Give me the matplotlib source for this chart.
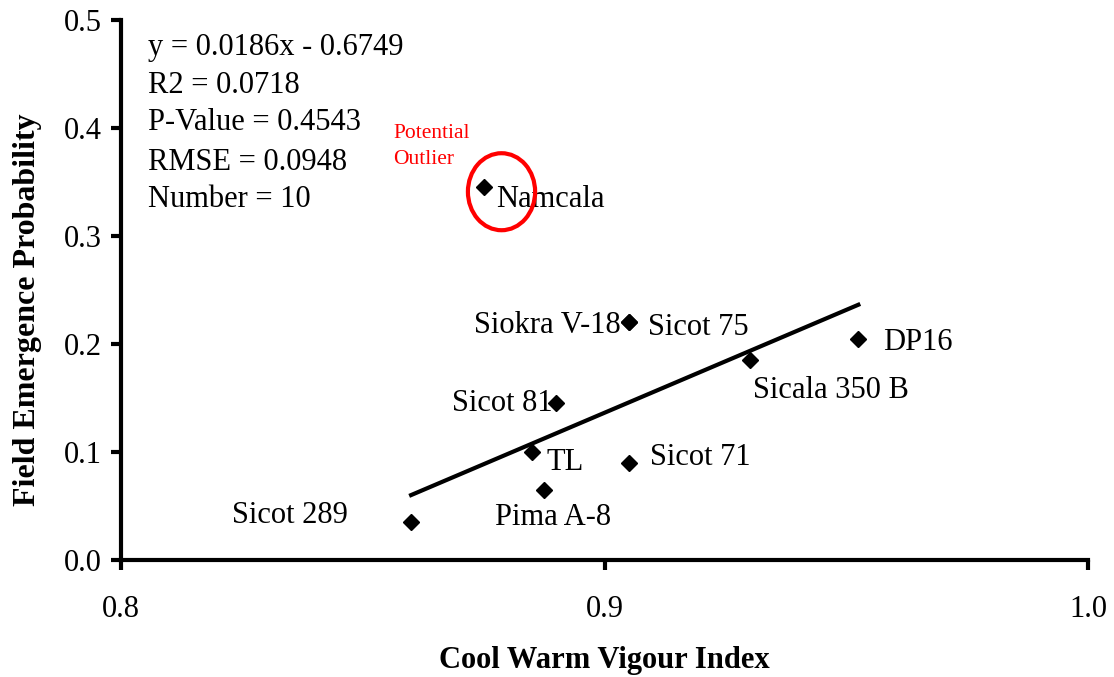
import numpy as np
import matplotlib
matplotlib.use("Agg")
import matplotlib.pyplot as plt
from matplotlib.patches import Ellipse

plt.rcParams['font.family'] = ['Liberation Serif', 'DejaVu Serif']

# Data
names = ["Namcala", "Siokra V-18", "Sicot 75", "Sicala 350 B", "DP16",
         "Sicot 81", "TL", "Sicot 71", "Pima A-8", "Sicot 289"]
vigour = [0.875, 0.905, 0.905, 0.930, 0.9525, 0.890, 0.885, 0.905, 0.8875, 0.860]
emergence = [0.345, 0.220, 0.220, 0.185, 0.205, 0.145, 0.100, 0.090, 0.065, 0.035]
outlier = "Namcala"

stats_lines = ["y = 0.0186x - 0.6749", "R2 = 0.0718", "P-Value = 0.4543",
               "RMSE = 0.0948", "Number = 10"]

# label offsets (pixels, baseline) and alignment
label_offsets = {
    "Namcala": (12.4, -19.6, 'left'),
    "Siokra V-18": (-8, -10.6, 'right'),
    "Sicot 75": (19.3, -12.6, 'left'),
    "Sicala 350 B": (3.4, -37.5, 'left'),
    "DP16": (24.6, -11, 'left'),
    "Sicot 81": (-4, -7.5, 'right'),
    "TL": (15, -18.5, 'left'),
    "Sicot 71": (21.3, -2, 'left'),
    "Pima A-8": (-49, -35.2, 'left'),
    "Sicot 289": (-179, -1, 'left'),
}

FS = 22
W, H = 1114, 677

fig = plt.figure(figsize=(11.14, 6.77), dpi=100)
ax = fig.add_axes([121/W, 117/H, (1088-121)/W, (560-20)/H])

ax.plot(vigour, emergence, linestyle='none', marker='D', markersize=8.2,
        color='black', zorder=3)

# Regression line fitted without the potential outlier
fx = np.array([v for v, n in zip(vigour, names) if n != outlier])
fy = np.array([e for e, n in zip(emergence, names) if n != outlier])
slope, intercept = np.polyfit(fx, fy, 1)
lx = np.array([fx.min(), fx.max()])
ax.plot(lx, slope * lx + intercept, color='black', linewidth=3, zorder=2)

for n, x, y in zip(names, vigour, emergence):
    dx, dy, ha = label_offsets[n]
    ax.annotate(n, (x, y), xytext=(dx, dy), textcoords='offset pixels',
                ha=ha, va='baseline', fontsize=FS)

# outlier marking
ox = vigour[names.index(outlier)]
oy = emergence[names.index(outlier)]
ax.add_patch(Ellipse((ox + 0.0037, oy - 0.004), 0.0139, 0.0713, fill=False,
                     edgecolor='#ff0000', linewidth=3, zorder=4))
for txt, base in zip(["Potential", "Outlier"], [138, 164]):
    fig.text(393/W, 1 - base/H, txt, color='#ff0000', fontsize=15.5,
             ha='left', va='baseline')

for line, base in zip(stats_lines, [55, 93, 130, 170, 207]):
    fig.text(148/W, 1 - base/H, line, fontsize=FS, ha='left', va='baseline')

ax.set_xlim(0.8, 1.0)
ax.set_ylim(0.0, 0.5)
ax.set_xticks([0.8, 0.9, 1.0])
ax.set_xticklabels(["0.8", "0.9", "1.0"])
ax.set_yticks([0.0, 0.1, 0.2, 0.3, 0.4, 0.5])
ax.set_yticklabels(["0.0", "0.1", "0.2", "0.3", "0.4", "0.5"])

for s in ['top', 'right']:
    ax.spines[s].set_visible(False)
for s in ['left', 'bottom']:
    ax.spines[s].set_linewidth(3)
ax.tick_params(axis='both', direction='out', length=7, width=3, labelsize=FS)
ax.tick_params(axis='x', pad=18)
ax.tick_params(axis='y', pad=7)

fig.text(604/W, 1 - 668/H, "Cool Warm Vigour Index", fontsize=FS,
         fontweight='bold', ha='center', va='baseline')
fig.text(27.5/W, 1 - 310/H, "Field Emergence Probability", fontsize=23,
         fontweight='bold', ha='center', va='center', rotation=90)

fig.savefig("out.png", dpi=100)
